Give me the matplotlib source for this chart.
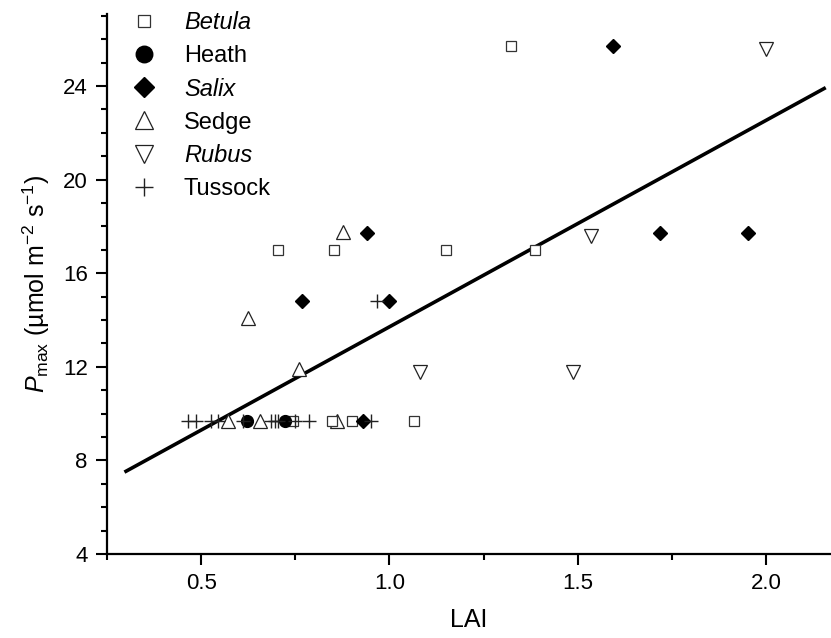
import numpy as np
import matplotlib.pyplot as plt
from matplotlib.ticker import MultipleLocator

plt.rcParams['font.family'] = ['Liberation Sans', 'DejaVu Sans']
plt.rcParams['mathtext.fontset'] = 'custom'
plt.rcParams['mathtext.rm'] = 'Liberation Sans'
plt.rcParams['mathtext.it'] = 'Liberation Sans:italic'

## data (LAI, Pmax)
betula_x = [1.324, 0.705, 0.852, 1.149, 1.388, 0.745, 0.848, 0.900, 1.066]
betula_y = [25.7, 17.0, 17.0, 17.0, 17.0, 9.7, 9.7, 9.7, 9.7]

heath_x = [0.622, 0.722]
heath_y = [9.7, 9.7]

salix_x = [1.594, 0.939, 0.768, 1.000, 1.719, 1.953, 0.930]
salix_y = [25.7, 17.7, 14.8, 14.8, 17.7, 17.7, 9.7]

sedge_x = [0.876, 0.623, 0.760, 0.570, 0.655, 0.861]
sedge_y = [17.75, 14.1, 11.9, 9.7, 9.7, 9.7]

rubus_x = [2.000, 1.535, 1.082, 1.487]
rubus_y = [25.6, 17.6, 11.8, 11.8]

tussock_x = [0.967, 0.465, 0.485, 0.525, 0.545, 0.610, 0.685, 0.695, 0.705, 0.748, 0.785, 0.950]
tussock_y = [14.8, 9.7, 9.7, 9.7, 9.7, 9.7, 9.7, 9.7, 9.7, 9.7, 9.7, 9.7]

## regression line
slope = 8.82
intercept = 4.89
fit_x = np.array([0.30, 2.155])

fig = plt.figure(figsize=(8.31, 6.38), dpi=100)
ax = fig.add_axes([0.129, 0.1317, 0.870, 0.8463])

ax.plot(fit_x, intercept + slope * fit_x, color='k', lw=2.6, zorder=1)

ax.plot(betula_x, betula_y, ls='none', marker='s', ms=6.5, mfc='white', mec='#333333', mew=0.9, label='Betula', zorder=3)
ax.plot(heath_x, heath_y, ls='none', marker='o', ms=8.5, mfc='k', mec='k', label='Heath', zorder=3)
ax.plot(salix_x, salix_y, ls='none', marker='D', ms=7.5, mfc='k', mec='k', label='Salix', zorder=3)
ax.plot(sedge_x, sedge_y, ls='none', marker='^', ms=9.5, mfc='white', mec='#222222', mew=0.9, label='Sedge', zorder=2)
ax.plot(rubus_x, rubus_y, ls='none', marker='v', ms=9.5, mfc='white', mec='#222222', mew=0.9, label='Rubus', zorder=3)
ax.plot(tussock_x, tussock_y, ls='none', marker='+', ms=9.5, mec='#222222', mew=1.0, label='Tussock', zorder=4)

ax.set_xlim(0.25, 2.171)
ax.set_ylim(4, 27.08)
ax.xaxis.set_minor_locator(MultipleLocator(0.25))
ax.yaxis.set_minor_locator(MultipleLocator(1))
ax.set_xticks([0.5, 1.0, 1.5, 2.0])
ax.set_xticklabels(['0.5', '1.0', '1.5', '2.0'])
ax.set_yticks([4, 8, 12, 16, 20, 24])

ax.tick_params(which='major', direction='out', length=8, width=1.5, labelsize=16, pad=6)
ax.tick_params(which='minor', direction='out', length=4.5, width=1.5)

ax.spines['top'].set_visible(False)
ax.spines['right'].set_visible(False)
ax.spines['left'].set_linewidth(1.6)
ax.spines['bottom'].set_linewidth(1.6)

ax.set_xlabel('LAI', fontsize=18, labelpad=10)
ax.set_ylabel('$\\mathit{P}_{\\rm max}$ (\u00b5mol m$^{-2}$ s$^{-1}$)', fontsize=18, labelpad=8)

leg = ax.legend(loc='upper left', bbox_to_anchor=(0.0, 1.045), frameon=False, fontsize=17,
                handletextpad=1.05, labelspacing=0.46, borderaxespad=0.5, handlelength=1.3,
                markerscale=1.4)
for t in leg.get_texts():
    if t.get_text() in ('Betula', 'Salix', 'Rubus'):
        t.set_style('italic')

fig.savefig('out.png', dpi=100)
